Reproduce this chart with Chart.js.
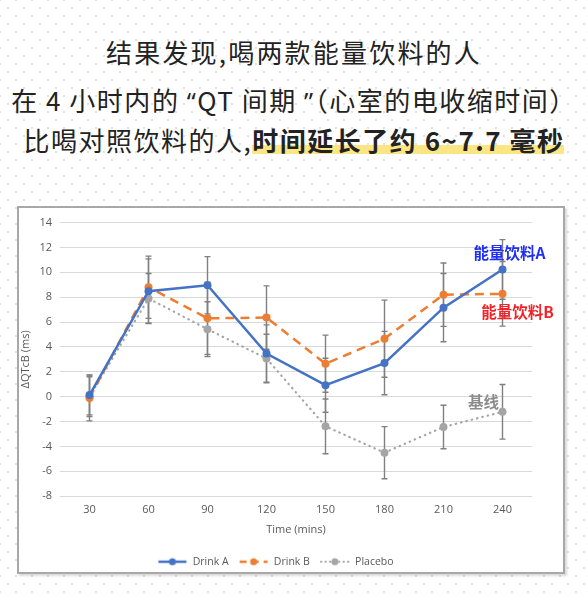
<!DOCTYPE html>
<html>
<head>
<meta charset="utf-8">
<script src="https://cdn.jsdelivr.net/npm/chart.js@4"></script>
<style>
  html, body { margin: 0; padding: 0; }
  body {
    width: 588px; height: 596px; position: relative; overflow: hidden;
    background-color: #fff;
    background-image:
      radial-gradient(circle, #e2e2e2 1px, transparent 1.4px),
      radial-gradient(circle, #e2e2e2 1px, transparent 1.4px);
    background-size: 16px 16px;
    background-position: 0 0, 8px 8px;
    font-family: "Noto Sans CJK SC", "Noto Sans", sans-serif;
  }
  .line {
    position: absolute; left: 0; width: 588px; text-align: center;
    font-size: 26px; color: #222; letter-spacing: 1.5px; white-space: nowrap;
  }
  .q { font-family: "Open Sans", sans-serif; }
  .hl {
    font-weight: bold;
    background: linear-gradient(transparent 64%, #fce583 64%, #fce583 90%, transparent 90%);
    border-radius: 6px;
  }
  #box {
    position: absolute; left: 17px; top: 206px; width: 544px; height: 364px;
    background: #fff; border: 2px solid #a8a8a8;
    box-shadow: 2px 2px 2px rgba(0,0,0,0.15);
  }
</style>
</head>
<body>
<div class="line" style="top:33px; letter-spacing:2.2px;">结果发现,喝两款能量饮料的人</div>
<div class="line" style="top:81px;">在 4 小时内的 <span class="q">“</span>QT 间期 <span class="q">”</span>（心室的电收缩时间）</div>
<div class="line" style="top:121px;">比喝对照饮料的人,<span class="hl">时间延长了约 6~7.7 毫秒</span></div>
<div id="box"><canvas id="qtChart"></canvas></div>
<script>
// time points (mins)
const times = ['30', '60', '90', '120', '150', '180', '210', '240'];
// ΔQTcB (ms)
const drinkA = [0.13, 8.48, 8.96, 3.47, 0.92, 2.7, 7.16, 10.23];
const drinkB = [-0.1, 8.8, 6.3, 6.36, 2.65, 4.66, 8.2, 8.27];
const placebo = [0, 7.9, 5.43, 3.07, -2.39, -4.51, -2.44, -1.22];
// error bar half widths
const errA = [1.6, 2.6, 2.3, 2.3, 2.17, 2.55, 2.75, 2.4];
const errB = [1.85, 2.5, 2.9, 2.55, 2.3, 3.1, 2.55, 2.6];
const errP = [1.6, 2.0, 2.2, 1.95, 2.2, 2.1, 1.75, 2.2];
const yTicks = [-8, -6, -4, -2, 0, 2, 4, 6, 8, 10, 12, 14];

const blue = '#4472C4', orange = '#ED7D31', grey = '#A5A5A5';

// small legend icons: line + dot
function legendIcon(color, dash, width) {
  const c = document.createElement('canvas');
  c.width = 30; c.height = 10;
  const g = c.getContext('2d');
  g.strokeStyle = color;
  g.lineWidth = width;
  g.lineCap = dash.length && dash[0] < 3 ? 'round' : 'butt';
  g.setLineDash(dash);
  g.beginPath(); g.moveTo(1, 5); g.lineTo(29, 5); g.stroke();
  g.setLineDash([]);
  g.fillStyle = color;
  g.beginPath(); g.arc(15, 5, 3.5, 0, Math.PI * 2); g.fill();
  return c;
}
const icons = [legendIcon(blue, [], 2.5), legendIcon(orange, [7, 5], 2.5), legendIcon(grey, [0.5, 4], 2)];

const errorBars = {
  id: 'errorBars',
  beforeDatasetsDraw(chart) {
    const ctx = chart.ctx, y = chart.scales.y, x = chart.scales.x;
    const errs = [errA, errB, errP];
    ctx.save();
    ctx.strokeStyle = '#808080';
    ctx.lineWidth = 1.4;
    chart.data.datasets.forEach((ds, i) => {
      ds.data.forEach((v, j) => {
        const px = x.getPixelForValue(j);
        const top = y.getPixelForValue(v + errs[i][j]);
        const bot = y.getPixelForValue(v - errs[i][j]);
        ctx.beginPath();
        ctx.moveTo(px, top); ctx.lineTo(px, bot);
        ctx.moveTo(px - 3, top); ctx.lineTo(px + 3, top);
        ctx.moveTo(px - 3, bot); ctx.lineTo(px + 3, bot);
        ctx.stroke();
      });
    });
    ctx.restore();
  }
};

const notes = {
  id: 'notes',
  afterDraw(chart) {
    const ctx = chart.ctx, y = chart.scales.y, x = chart.scales.x;
    const last = times.length - 1;
    const px = x.getPixelForValue(last);
    ctx.save();
    ctx.font = 'bold 15.5px "Noto Sans CJK SC"';
    ctx.textAlign = 'center';
    ctx.textBaseline = 'middle';
    ctx.fillStyle = '#1f2ff5';
    ctx.fillText('能量饮料A', px + 7, y.getPixelForValue(drinkA[last]) - 16);
    ctx.fillStyle = '#f0252b';
    ctx.fillText('能量饮料B', px + 15, y.getPixelForValue(drinkB[last]) + 18);
    ctx.fillStyle = '#8c8c8c';
    ctx.fillText('基线', px - 19, y.getPixelForValue(placebo[last]) - 10);
    ctx.restore();
  }
};

new Chart(document.getElementById('qtChart'), {
  type: 'line',
  data: {
    labels: times,
    datasets: [
      { label: 'Drink A', data: drinkA, borderColor: blue, backgroundColor: blue,
        borderWidth: 2.5, pointRadius: 4, pointBackgroundColor: blue, pointBorderWidth: 0 },
      { label: 'Drink B', data: drinkB, borderColor: orange, backgroundColor: orange,
        borderWidth: 2.5, borderDash: [9, 6], pointRadius: 4, pointBackgroundColor: orange, pointBorderWidth: 0 },
      { label: 'Placebo', data: placebo, borderColor: grey, backgroundColor: grey,
        borderWidth: 2.2, borderDash: [0.5, 5], borderCapStyle: 'round', pointRadius: 4,
        pointBackgroundColor: grey, pointBorderWidth: 0 }
    ]
  },
  options: {
    responsive: true,
    maintainAspectRatio: false,
    animation: false,
    elements: { point: { pointStyle: 'circle' }, line: { tension: 0 } },
    layout: { padding: { top: 4, right: 31, left: 0, bottom: -5 } },
    plugins: {
      legend: {
        position: 'bottom',
        labels: {
          usePointStyle: true,
          pointStyleWidth: 30,
          padding: 10,
          color: '#595959',
          font: { family: 'Open Sans', size: 10.5 },
          generateLabels(chart) {
            return chart.data.datasets.map((ds, i) => ({
              text: ds.label, pointStyle: icons[i], fontColor: '#595959',
              datasetIndex: i, hidden: false, lineWidth: 0
            }));
          }
        }
      },
      tooltip: { enabled: false }
    },
    scales: {
      x: {
        offset: true,
        grid: { display: false, drawTicks: false },
        border: { display: false },
        ticks: { color: '#595959', padding: 7, font: { family: 'Open Sans', size: 11 } },
        title: { display: true, text: 'Time (mins)', color: '#595959',
          font: { family: 'Open Sans', size: 11 }, padding: { top: 0, bottom: 10 } }
      },
      y: {
        min: -8, max: 14,
        afterBuildTicks(scale) { scale.ticks = yTicks.map(v => ({ value: v })); },
        afterFit(scale) { scale.width = 41; },
        grid: { color: '#d9d9d9', lineWidth: 1, drawTicks: false },
        border: { display: false },
        ticks: { color: '#595959', padding: 8, font: { family: 'Open Sans', size: 11 } },
        title: { display: true, text: 'ΔQTcB (ms)', color: '#595959',
          font: { family: 'Open Sans', size: 11 }, padding: { top: 0, bottom: 1 } }
      }
    }
  },
  plugins: [errorBars, notes]
});
</script>
</body>
</html>
